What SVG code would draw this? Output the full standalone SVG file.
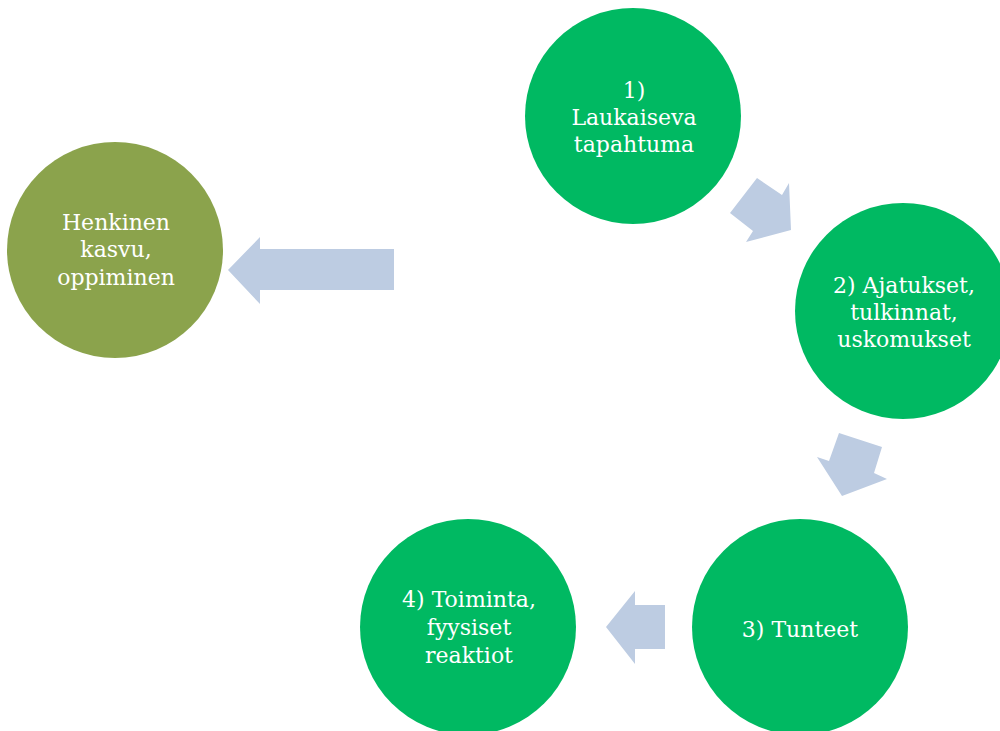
<svg xmlns="http://www.w3.org/2000/svg" width="1000" height="731" viewBox="0 0 1000 731">
<style>
.g{fill:#00B962}
.o{fill:#8BA34C}
.a{fill:#BDCCE2}
text{font-family:"DejaVu Serif","Liberation Serif",serif;font-size:22px;fill:#FFFFFF;text-anchor:middle}
</style>
<rect width="1000" height="731" fill="#FFFFFF"/>
<g id="connectors">
<polygon class="a" points="757,178 782,195 789,183 791,230 746,242 753,231 730,213"/>
<polygon class="a" points="839,433 882,447 874,473 887,479 842,496 817,457 829,461"/>
<polygon class="a" points="606,627 635,591 635,605 665,605 665,649 635,649 635,664"/>
<polygon class="a" points="228,270 260,237 260,249 394,249 394,290 260,290 260,304"/>
</g>
<g id="n1">
<circle class="g" cx="633" cy="116" r="108"/>
<text x="634" y="98">1)</text>
<text x="634" y="125">Laukaiseva</text>
<text x="634" y="152">tapahtuma</text>
</g>
<g id="n2">
<circle class="g" cx="903" cy="311" r="108"/>
<text x="904" y="293">2) Ajatukset,</text>
<text x="904" y="320">tulkinnat,</text>
<text x="904" y="347">uskomukset</text>
</g>
<g id="n3">
<circle class="g" cx="800" cy="627" r="108"/>
<text x="800" y="637">3) Tunteet</text>
</g>
<g id="n4">
<circle class="g" cx="468" cy="627" r="108"/>
<text x="469" y="607">4) Toiminta,</text>
<text x="469" y="635">fyysiset</text>
<text x="469" y="663">reaktiot</text>
</g>
<g id="n5">
<circle class="o" cx="115" cy="250" r="108"/>
<text x="116" y="230">Henkinen</text>
<text x="116" y="257">kasvu,</text>
<text x="116" y="285">oppiminen</text>
</g>
</svg>
